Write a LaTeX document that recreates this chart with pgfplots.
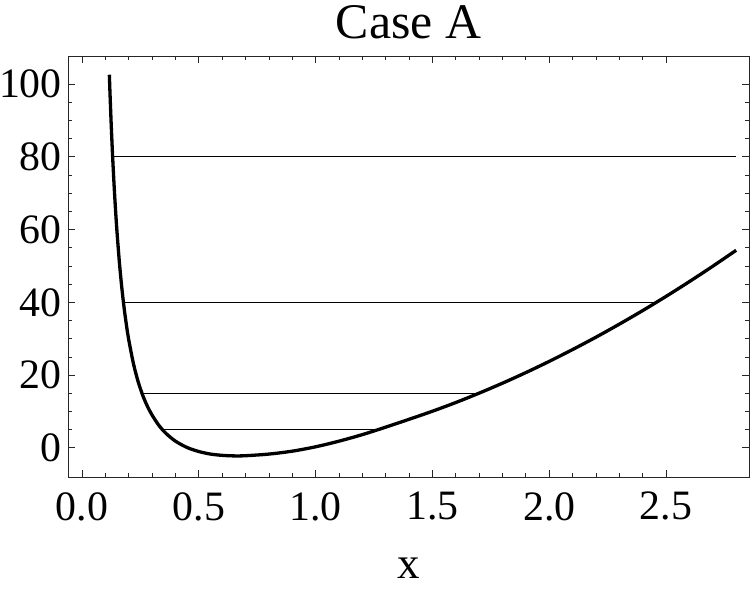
\documentclass[border=0pt]{standalone}
\usepackage{fontspec}
\setmainfont{Liberation Serif}
\usepackage{pgfplots}
\pgfplotsset{compat=1.18}
\begin{document}
\begin{tikzpicture}
\begin{axis}[
  scale only axis,
  width=681bp, height=421bp,
  xmin=-0.06, xmax=2.855,
  ymin=-8, ymax=107.7,
  xtick={0,0.5,1,1.5,2,2.5},
  ytick={0,20,40,60,80,100},
  minor x tick num=4,
  minor y tick num=3,
  xtick pos=both, ytick pos=both,
  xticklabel pos=left, yticklabel pos=left,
  tick align=inside,
  major tick length=7bp,
  minor tick length=4bp,
  axis line style={black!85, line width=0.9bp},
  every tick/.style={black!85, line width=0.8bp},
  /pgf/number format/assume math mode=true,
  xticklabel style={/pgf/number format/.cd, fixed, fixed zerofill, precision=1, /tikz/.cd,
     anchor=north, inner sep=0pt, yshift=-15bp, font=\fontsize{42}{42}\selectfont},
  yticklabel style={anchor=east, inner sep=0pt, xshift=-6bp, font=\fontsize{42}{42}\selectfont},
  title={Case A},
  title style={at={(axis description cs:0.5,1)}, anchor=base, yshift=12bp, inner sep=0pt, font=\fontsize{50}{50}\selectfont},
  xlabel={x},
  xlabel style={at={(axis description cs:0.5,0)}, anchor=base, yshift=-101bp, inner sep=0pt, font=\fontsize{45}{45}\selectfont},
]
% energy levels
\addplot[black, line width=0.9bp] coordinates {(0.133,80) (2.80,80)};
\addplot[black, line width=0.9bp] coordinates {(0.18,40) (2.45,40)};
\addplot[black, line width=0.9bp] coordinates {(0.257,15) (1.70,15)};
\addplot[black, line width=0.9bp] coordinates {(0.346,5) (1.27,5)};
% potential curve
\addplot[black, line width=3.3bp, smooth] coordinates {
(0.117,102.55) (0.12,97.07) (0.125,88.81) (0.13,81.48) (0.135,74.95)
(0.14,69.11) (0.145,63.86) (0.15,59.14) (0.16,50.98) (0.17,44.23)
(0.18,38.57) (0.19,33.80) (0.20,29.72) (0.22,23.19) (0.24,18.25)
(0.26,14.43) (0.28,11.41) (0.30,9.01) (0.33,6.10) (0.36,3.95)
(0.40,1.85) (0.45,0.10) (0.50,-1.00) (0.55,-1.70) (0.60,-2.05)
(0.65,-2.20) (0.70,-2.15) (0.80,-1.70) (0.90,-0.90) (1.00,0.30)
(1.10,1.85) (1.20,3.65) (1.30,5.70) (1.40,7.86) (1.50,10.08)
(1.60,12.47) (1.70,15.05) (1.80,17.79) (1.90,20.70) (2.00,23.78)
(2.10,27.03) (2.20,30.43) (2.30,34.01) (2.40,37.74) (2.50,41.64)
(2.60,45.71) (2.70,49.93) (2.80,54.31)
};
\end{axis}
\pgfresetboundingbox
\path[use as bounding box] (-68bp,-113bp) rectangle (682bp,477bp);
\end{tikzpicture}
\end{document}
